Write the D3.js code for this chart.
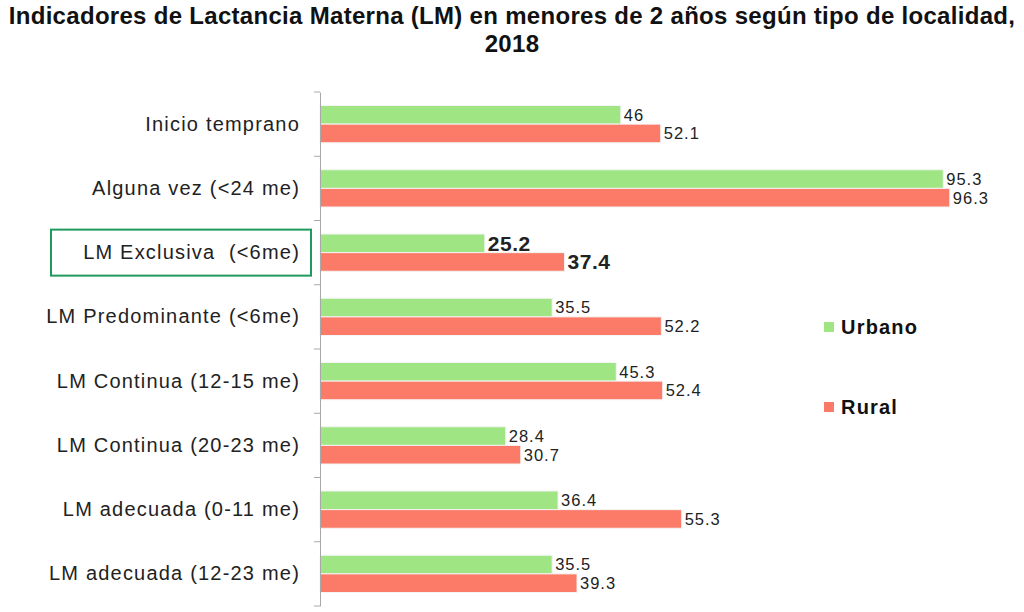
<!DOCTYPE html>
<html lang="es">
  <head>
    <meta charset="UTF-8" />
    <title>Indicadores de Lactancia Materna</title>
    <script src="https://d3js.org/d3.v7.min.js"></script>
    <style>
      body { margin: 0; background: #fff; }
      text { font-family: "Liberation Sans", Arial, sans-serif; }
    </style>
  </head>

  <body>
    <svg width="1024" height="612"></svg>

    <script>
      // datos
      const categorias = [
        "Inicio temprano",
        "Alguna vez (<24 me)",
        "LM Exclusiva  (<6me)",
        "LM Predominante (<6me)",
        "LM Continua (12-15 me)",
        "LM Continua (20-23 me)",
        "LM adecuada (0-11 me)",
        "LM adecuada (12-23 me)",
      ];
      const series = ["Urbano", "Rural"];
      const urbano = [46, 95.3, 25.2, 35.5, 45.3, 28.4, 36.4, 35.5];
      const rural = [52.1, 96.3, 37.4, 52.2, 52.4, 30.7, 55.3, 39.3];
      const etiquetaUrbano = ["46", "95.3", "25.2", "35.5", "45.3", "28.4", "36.4", "35.5"];
      const etiquetaRural = ["52.1", "96.3", "37.4", "52.2", "52.4", "30.7", "55.3", "39.3"];
      const destacada = "LM Exclusiva  (<6me)";

      const colores = { Urbano: "#9fe584", Rural: "#fb7b68" };

      const svg = d3.select("svg");

      const x = d3.scaleLinear().domain([0, 100]).range([320, 974]);
      const y0 = d3
        .scaleBand()
        .domain(categorias)
        .range([92, 606])
        .paddingInner(0.42)
        .paddingOuter(0.21);
      const y1 = d3.scaleBand().domain(series).range([0, y0.bandwidth()]);

      const filas = categorias.map((c, i) => ({
        cat: c,
        valores: [
          { s: "Urbano", v: urbano[i], t: etiquetaUrbano[i] },
          { s: "Rural", v: rural[i], t: etiquetaRural[i] },
        ],
      }));

      // titulo
      const titulo = [
        "Indicadores de Lactancia Materna (LM) en menores de 2 años según tipo de localidad,",
        "2018",
      ];
      svg
        .append("g")
        .selectAll("text")
        .data(titulo)
        .join("text")
        .attr("x", 512)
        .attr("y", (d, i) => 24 + i * 28)
        .attr("text-anchor", "middle")
        .attr("font-size", "24px")
        .attr("font-weight", "bold")
        .attr("letter-spacing", "0.3px")
        .attr("fill", "#111")
        .text((d) => d);

      // barras
      const grupos = svg
        .append("g")
        .selectAll("g")
        .data(filas)
        .join("g")
        .attr("transform", (d) => `translate(0,${y0(d.cat)})`);

      grupos
        .selectAll("rect")
        .data((d) => d.valores)
        .join("rect")
        .attr("x", x(0))
        .attr("y", (d) => y1(d.s))
        .attr("width", (d) => x(d.v) - x(0))
        .attr("height", y1.bandwidth())
        .attr("fill", (d) => colores[d.s])
        .attr("stroke", "#f4f4f4")
        .attr("stroke-width", 1);

      grupos.each(function (d) {
        const negrita = d.cat === destacada;
        d3.select(this)
          .selectAll("text.valor")
          .data(d.valores)
          .join("text")
          .attr("class", "valor")
          .attr("x", (v) => x(v.v) + 3)
          .attr("y", (v) => y1(v.s) + y1.bandwidth() / 2)
          .attr("dy", "0.36em")
          .attr("font-size", negrita ? "21px" : "16.5px")
          .attr("font-weight", negrita ? "bold" : "normal")
          .attr("letter-spacing", negrita ? "0.5px" : "1px")
          .attr("fill", "#222")
          .text((v) => v.t);
      });

      // eje vertical
      const eje = svg
        .append("g")
        .attr("transform", `translate(${x(0)},0)`)
        .call(d3.axisLeft(y0).tickSize(0).tickPadding(20));
      eje.select(".domain").attr("stroke", "#a8a8a8");
      eje
        .selectAll(".tick text")
        .attr("font-size", "20px")
        .attr("letter-spacing", "1.2px")
        .attr("fill", "#222")
        .style("white-space", "pre")
        .attr("font-family", "'Liberation Sans', Arial, sans-serif");

      // marcas entre categorias
      const limites = categorias.map((c) => y0(c) - (y0.step() * y0.paddingInner()) / 2);
      limites.push(606);
      svg
        .append("g")
        .selectAll("line")
        .data(limites)
        .join("line")
        .attr("x1", x(0) - 6)
        .attr("x2", x(0))
        .attr("y1", (d) => d)
        .attr("y2", (d) => d)
        .attr("stroke", "#a8a8a8");

      // recuadro de la categoria destacada
      svg
        .append("rect")
        .attr("x", 51)
        .attr("y", y0(destacada) + y0.bandwidth() / 2 - 23)
        .attr("width", 260)
        .attr("height", 46)
        .attr("fill", "none")
        .attr("stroke", "#1f9a5c")
        .attr("stroke-width", 2);

      // leyenda
      const leyenda = svg
        .append("g")
        .selectAll("g")
        .data(series)
        .join("g")
        .attr("transform", (d, i) => `translate(824,${322 + i * 80})`);
      leyenda
        .append("rect")
        .attr("width", 10)
        .attr("height", 10)
        .attr("fill", (d) => colores[d]);
      leyenda
        .append("text")
        .attr("x", 17)
        .attr("y", 5)
        .attr("dy", "0.36em")
        .attr("font-size", "20px")
        .attr("font-weight", "bold")
        .attr("letter-spacing", "1.2px")
        .attr("fill", "#111")
        .text((d) => d);
    </script>
  </body>
</html>
